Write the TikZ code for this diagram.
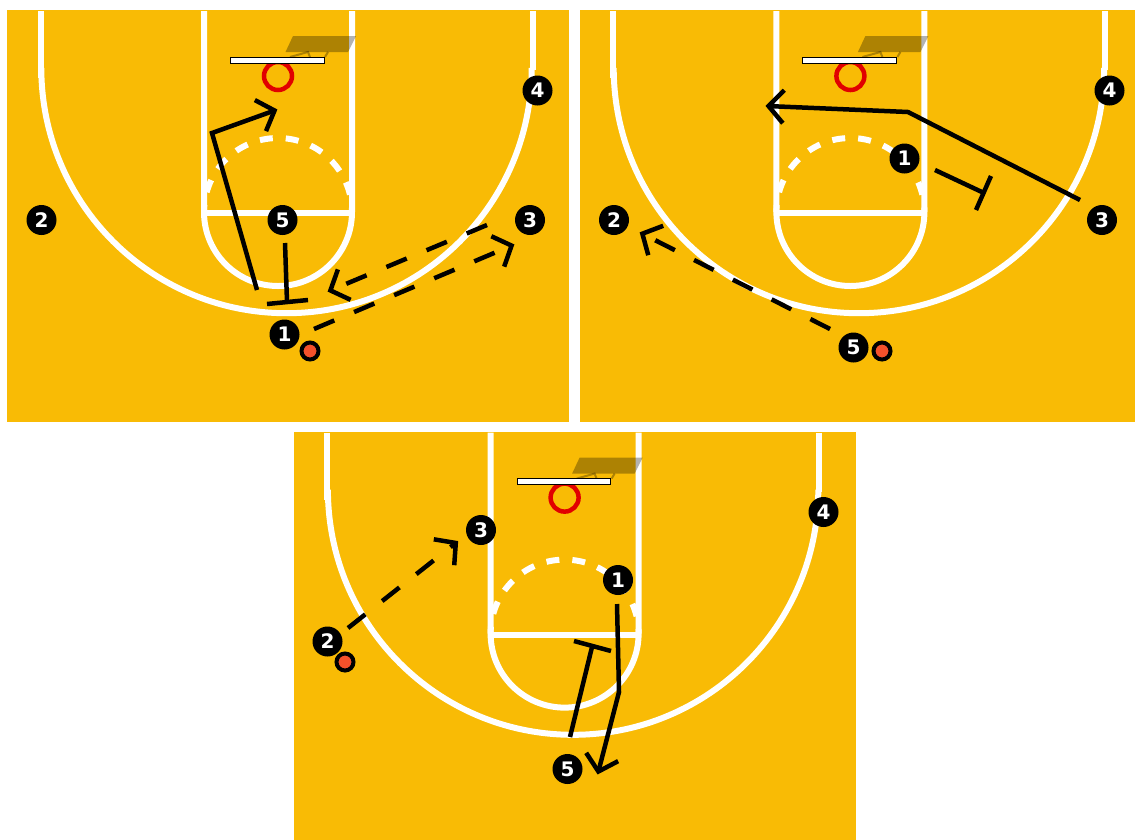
\documentclass[tikz,border=0pt]{standalone}
\usepackage{fontspec}
\setmainfont{DejaVu Sans}
\usepackage{xcolor}
\usetikzlibrary{arrows.meta}
\definecolor{floor}{HTML}{F9BB05}
\definecolor{rimred}{HTML}{E10000}
\definecolor{ballred}{HTML}{F4512B}

\begin{document}
\begin{tikzpicture}[
  x=1pt,y=-1pt,
  player/.style={circle,fill=black,text=white,minimum size=30pt,inner sep=0pt,
    font=\fontsize{20}{20}\selectfont\bfseries},
  ball/.style={circle,draw=black,line width=4pt,fill=ballred,minimum size=17pt,inner sep=0pt},
  courtline/.style={white,line width=6pt},
  cut/.style={line width=4.5pt,-{Straight Barb[length=15pt,width=33pt,line width=4.5pt]},shorten >=-1.5pt},
  pass/.style={cut,dash pattern=on 22pt off 21.5pt},
  screen/.style={line width=4.5pt},
  court/.pic={
    \fill[floor] (7.4,10) rectangle (569,422);
    \draw[courtline] (40.7,11) -- (40.7,78);
    \draw[courtline] (532.5,11) -- (532.5,70);
    \draw[courtline] (41.3,68) arc[start angle=180,end angle=0,radius=245.2];
    \draw[courtline] (204,11) -- (204,212) arc[start angle=180,end angle=0,radius=74] -- (352,11);
    \draw[courtline] (204,213) -- (352,213);
    \draw[courtline,dash pattern=on 13pt off 13pt,dash phase=6pt] (204,212) arc[start angle=180,end angle=360,radius=74];
    \draw[rimred,line width=4.5pt] (278,76) circle[radius=14];
    \fill[black,opacity=.3] (285.5,52) -- (293,36) -- (356,36) -- (348,52) -- cycle;
    \draw[black,opacity=.3,line width=2pt] (290,57) -- (308,52) -- (310,57) (325,57) -- (328,52);
    \draw[black,fill=white,line width=1pt] (230.5,57) rectangle (324,63);
  }]

\useasboundingbox (0,0) rectangle (1135,839);
\fill[white] (0,0) rectangle (1135,839);
\clip (0,0) rectangle (1135,839);

\foreach \dx/\dy in {0/0,572.4/0,286.6/421.6}
  \pic at (\dx,\dy) {court};

\node[player] (a2) at (41.5,220) {2};
\node[player] (a5) at (282.5,220) {5};
\node[player] (a3) at (530,220) {3};
\node[player] (a4) at (537.5,90.5) {4};
\node[player] (a1) at (284.5,334.5) {1};
\node[ball] (aball) at (310,351) {};

\coordinate (acutfrom) at (257,290);
\coordinate (acutbend) at (212,133);
\coordinate (acutto) at (276,110);
\coordinate (apassfrom) at (314,329);
\coordinate (apassto) at (513,245);
\coordinate (aretfrom) at (487,225);
\coordinate (aretto) at (329,291);
\coordinate (ascreenfrom) at (285,243);
\coordinate (ascreento) at (287,302);
\coordinate (abarleft) at (267,304);
\coordinate (abarright) at (308,300);

\draw[cut] (acutfrom) -- (acutbend) -- (acutto);
\draw[pass] (apassfrom) -- (apassto);
\draw[pass] (aretfrom) -- (aretto);
\draw[screen] (ascreenfrom) -- (ascreento);
\draw[screen] (abarleft) -- (abarright);

\node[player] (b4) at (1109.5,90.5) {4};
\node[player] (b1) at (904.5,158.5) {1};
\node[player] (b2) at (614,220) {2};
\node[player] (b3) at (1102,220) {3};
\node[player] (b5) at (853.5,347.5) {5};
\node[ball] (bball) at (882,351) {};

\coordinate (bcutfrom) at (1080,200);
\coordinate (bcutbend) at (908,112);
\coordinate (bcutto) at (767,106);
\coordinate (bpassfrom) at (830,329);
\coordinate (bpassto) at (641,233);
\coordinate (bscreenfrom) at (935,170);
\coordinate (bscreento) at (984,193);
\coordinate (bbartop) at (991,176);
\coordinate (bbarbottom) at (976,210);

\draw[cut] (bcutfrom) -- (bcutbend) -- (bcutto);
\draw[pass] (bpassfrom) -- (bpassto);
\draw[screen] (bscreenfrom) -- (bscreento);
\draw[screen] (bbartop) -- (bbarbottom);

\node[player] (c3) at (481,530) {3};
\node[player] (c4) at (823.5,512) {4};
\node[player] (c1) at (618,580) {1};
\node[player] (c2) at (327.5,641.5) {2};
\node[player] (c5) at (567.5,769) {5};
\node[ball] (cball) at (345,662) {};

\coordinate (ccutfrom) at (617,604);
\coordinate (ccutbend) at (619,692);
\coordinate (ccutto) at (598,773);
\coordinate (cpassfrom) at (348,628);
\coordinate (cpassto) at (457,542);
\coordinate (cscreenfrom) at (570,737);
\coordinate (cscreento) at (592,647);
\coordinate (cbarleft) at (574,641);
\coordinate (cbarright) at (611,651);

\draw[cut] (ccutfrom) -- (ccutbend) -- (ccutto);
\draw[pass] (cpassfrom) -- (cpassto);
\draw[screen] (cscreenfrom) -- (cscreento);
\draw[screen] (cbarleft) -- (cbarright);
\end{tikzpicture}
\end{document}
